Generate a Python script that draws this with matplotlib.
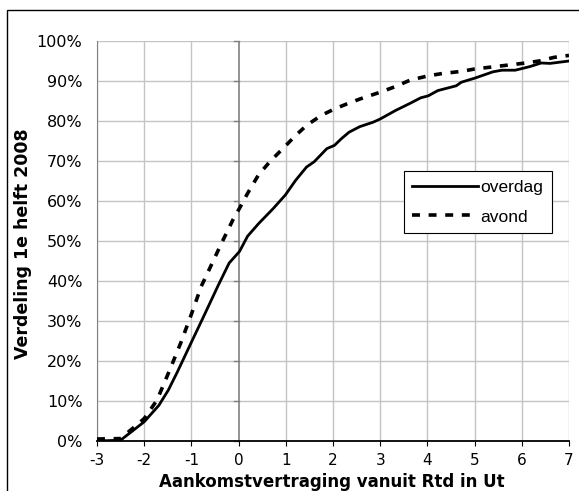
import numpy as np
import matplotlib.pyplot as plt
from matplotlib.patches import Rectangle
from matplotlib.ticker import FuncFormatter

plt.rcParams['axes.unicode_minus'] = False

# delay (minutes) vs cumulative share (%)
overdag_x = [-3.0, -2.5, -2.0, -1.69, -1.49, -1.30, -1.0, -0.75, -0.44, -0.2, 0.02,
             0.19, 0.42, 0.74, 0.99, 1.21, 1.44, 1.60, 1.87, 2.03, 2.18, 2.34, 2.57,
             2.85, 3.0, 3.32, 3.63, 3.86, 4.02, 4.22, 4.61, 4.72, 5.0, 5.39, 5.58,
             5.86, 6.17, 6.41, 6.60, 7.0]
overdag_y = [0.0, 0.2, 4.8, 8.9, 12.7, 17.2, 24.7, 30.9, 38.7, 44.5, 47.4,
             51.2, 54.3, 58.2, 61.5, 65.2, 68.5, 69.8, 73.1, 73.9, 75.6, 77.2, 78.6,
             79.7, 80.5, 82.6, 84.4, 85.8, 86.3, 87.6, 88.8, 89.7, 90.7, 92.3, 92.7,
             92.7, 93.6, 94.5, 94.4, 95.0]

avond_x = [-3.0, -2.5, -2.0, -1.73, -1.45, -1.22, -1.0, -0.79, -0.59, -0.36, -0.12,
           0.02, 0.19, 0.42, 0.66, 0.97, 1.21, 1.44, 1.75, 2.03, 2.30, 2.57, 3.0,
           3.32, 3.63, 4.02, 4.33, 4.72, 5.0, 5.58, 6.01, 6.37, 6.68, 7.0]
avond_y = [0.5, 0.6, 5.6, 10.2, 18.0, 24.7, 31.7, 38.7, 43.7, 49.5, 55.3,
           58.2, 61.9, 66.5, 69.8, 73.5, 76.4, 78.9, 81.4, 83.0, 84.3, 85.5, 87.2,
           88.6, 90.2, 91.3, 91.9, 92.4, 93.0, 93.8, 94.4, 95.0, 95.9, 96.4]

x_ticks = list(range(-3, 8))
y_ticks = list(range(0, 101, 10))

fig = plt.figure(figsize=(5.79, 4.91), dpi=100)
# chart border (runs off the right and bottom edge)
fig.patches.append(Rectangle((7 / 579, -0.1), 1.0, 1 - 10 / 491 + 0.1,
                             transform=fig.transFigure, fill=False,
                             edgecolor='black', linewidth=1.0))

ax = fig.add_axes([97 / 579, 1 - 441 / 491, 472 / 579, 400 / 491])

# grid
for xv in x_ticks:
    if xv != 0:
        ax.axvline(xv, color='#c4c4c4', linewidth=1.0, zorder=0)
for yv in y_ticks:
    ax.axhline(yv, color='#c4c4c4', linewidth=1.0, zorder=0)

# vertical axis crossing at 0 with tick marks
ax.axvline(0, color='#808080', linewidth=1.2, zorder=1)
for yv in y_ticks:
    ax.plot([-0.09, 0], [yv, yv], color='#808080', linewidth=1.0, zorder=1,
            clip_on=False)

ax.plot(overdag_x, overdag_y, color='black', linewidth=2.0, label='overdag', zorder=3)
ax.plot(avond_x, avond_y, color='black', linewidth=2.6, linestyle=(0, (2.2, 2.4)),
        label='avond', zorder=3)

ax.set_xlim(-3, 7)
ax.set_ylim(0, 100)
ax.set_xticks(x_ticks)
ax.set_yticks(y_ticks)
ax.yaxis.set_major_formatter(FuncFormatter(lambda v, p: f'{int(v)}%'))

for side in ['top', 'right']:
    ax.spines[side].set_visible(False)
ax.spines['left'].set_color('#808080')
ax.spines['bottom'].set_color('black')
ax.spines['bottom'].set_linewidth(1.3)
ax.tick_params(axis='y', length=0, labelsize=11.5, pad=10.5)
ax.tick_params(axis='x', direction='out', length=3.5, labelsize=11, pad=5,
               color='black')

fig.text(331.5 / 579, 1 - 487.3 / 491, 'Aankomstvertraging vanuit Rtd in Ut',
         fontsize=12, fontweight='bold', ha='center', va='baseline')
fig.text(23 / 579, 1 - 243.5 / 491, 'Verdeling 1e helft 2008',
         fontsize=12.5, fontweight='bold', rotation=90, ha='center', va='center')

leg = ax.legend(loc='upper left', bbox_to_anchor=(0.650, 0.675),
                frameon=True, fancybox=False, framealpha=1, edgecolor='black',
                prop={'family': 'Liberation Sans', 'size': 12.5},
                handlelength=3.75, handletextpad=0.15, borderpad=0.5,
                labelspacing=0.84, borderaxespad=0)
leg.get_frame().set_linewidth(0.8)

fig.savefig('out.png', dpi=100)
